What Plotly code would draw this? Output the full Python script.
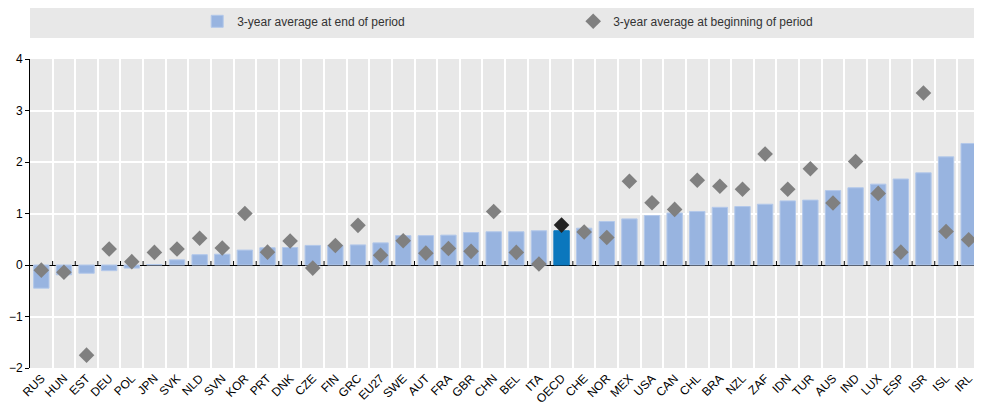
import plotly.graph_objects as go

categories = ["RUS","HUN","EST","DEU","POL","JPN","SVK","NLD","SVN","KOR","PRT","DNK","CZE",
              "FIN","GRC","EU27","SWE","AUT","FRA","GBR","CHN","BEL","ITA","OECD","CHE","NOR",
              "MEX","USA","CAN","CHL","BRA","NZL","ZAF","IDN","TUR","AUS","IND","LUX","ESP",
              "ISR","ISL","IRL"]
end_period = [-0.45,-0.19,-0.16,-0.11,-0.06,0.01,0.10,0.20,0.21,0.29,0.335,0.34,0.38,
              0.38,0.39,0.43,0.57,0.57,0.58,0.63,0.645,0.645,0.665,0.665,0.715,0.845,
              0.895,0.96,1.01,1.04,1.12,1.135,1.18,1.245,1.26,1.445,1.50,1.57,1.67,
              1.79,2.10,2.36]
begin_period = [-0.10,-0.14,-1.75,0.31,0.065,0.245,0.31,0.52,0.33,1.00,0.25,0.465,-0.06,
                0.38,0.77,0.19,0.47,0.23,0.32,0.265,1.04,0.245,0.02,0.775,0.64,0.535,
                1.625,1.21,1.08,1.645,1.53,1.47,2.155,1.47,1.87,1.205,2.01,1.39,0.25,
                3.34,0.65,0.49]
y_ticks = [-2, -1, 0, 1, 2, 3, 4]
legend_names = ["3-year average at end of period", "3-year average at beginning of period"]

n = len(categories)
xs = list(range(n))
hl = "OECD"
bar_colors = ["#0b77bd" if c == hl else "#98b4e0" for c in categories]
bar_lines = ["#0b77bd" if c == hl else "#b3c8ea" for c in categories]
dia_colors = ["#222222" if c == hl else "#808080" for c in categories]

fig = go.Figure()
fig.add_trace(go.Bar(x=xs, y=end_period, name=legend_names[0],
                     marker=dict(color=bar_colors, line=dict(color=bar_lines, width=1)),
                     width=0.68))
fig.add_trace(go.Scatter(x=xs, y=begin_period, name=legend_names[1], mode="markers",
                         marker=dict(symbol="diamond", size=12, color=dia_colors)))

shapes = []
# legend background band
shapes.append(dict(type="rect", xref="paper", yref="paper", x0=0, x1=1.003,
                   y0=1.068, y1=1.175, fillcolor="#e8e8e8", line=dict(width=0), layer="below"))
# small ticks on zero line at category boundaries
for i in range(n):
    shapes.append(dict(type="line", xref="x", yref="y", x0=i + 0.5, x1=i + 0.5,
                       ysizemode="pixel", yanchor=0, y0=0, y1=4,
                       line=dict(color="#000000", width=1)))
fig.update_layout(shapes=shapes)

# page body has an 8px margin: compensate so the plot lands where the reference has it
fig.update_layout(
    width=982, height=409,
    margin=dict(l=22, r=10, t=51, b=49, autoexpand=False),
    paper_bgcolor="#ffffff",
    plot_bgcolor="#e8e8e8",
    font=dict(family="Liberation Sans Narrow, Arial Narrow, Liberation Sans, Arial", size=12, color="#000000"),
    showlegend=True,
    legend=dict(orientation="h", x=0.176, xanchor="left", y=1.122, yanchor="middle",
                bgcolor="rgba(0,0,0,0)", entrywidth=331, entrywidthmode="pixels",
                font=dict(size=12, color="#333333"), itemwidth=30),
    bargap=0.3,
)
fig.update_xaxes(
    range=[-0.5, n - 0.5], tickmode="array", tickvals=xs, ticktext=categories,
    tickangle=-45, showgrid=False, ticks="", zeroline=False, showline=False,
    automargin=False,
    tickfont=dict(family="Liberation Sans, Arial", size=12, color="#000000"),
    minor=dict(tickmode="array", tickvals=[i + 0.5 for i in range(-1, n)],
               showgrid=True, gridcolor="#ffffff", gridwidth=1.5, ticks=""),
)
fig.update_yaxes(
    range=[-2, 4], tickmode="array", tickvals=y_ticks,
    showgrid=True, gridcolor="#ffffff", gridwidth=1.5,
    zeroline=True, zerolinecolor="#000000", zerolinewidth=1,
    showline=True, linecolor="#000000", linewidth=1,
    ticks="outside", ticklen=4, tickcolor="#000000", automargin=False,
    tickfont=dict(family="Liberation Sans, Arial", size=12, color="#000000"),
)

fig.write_html("out.html")
